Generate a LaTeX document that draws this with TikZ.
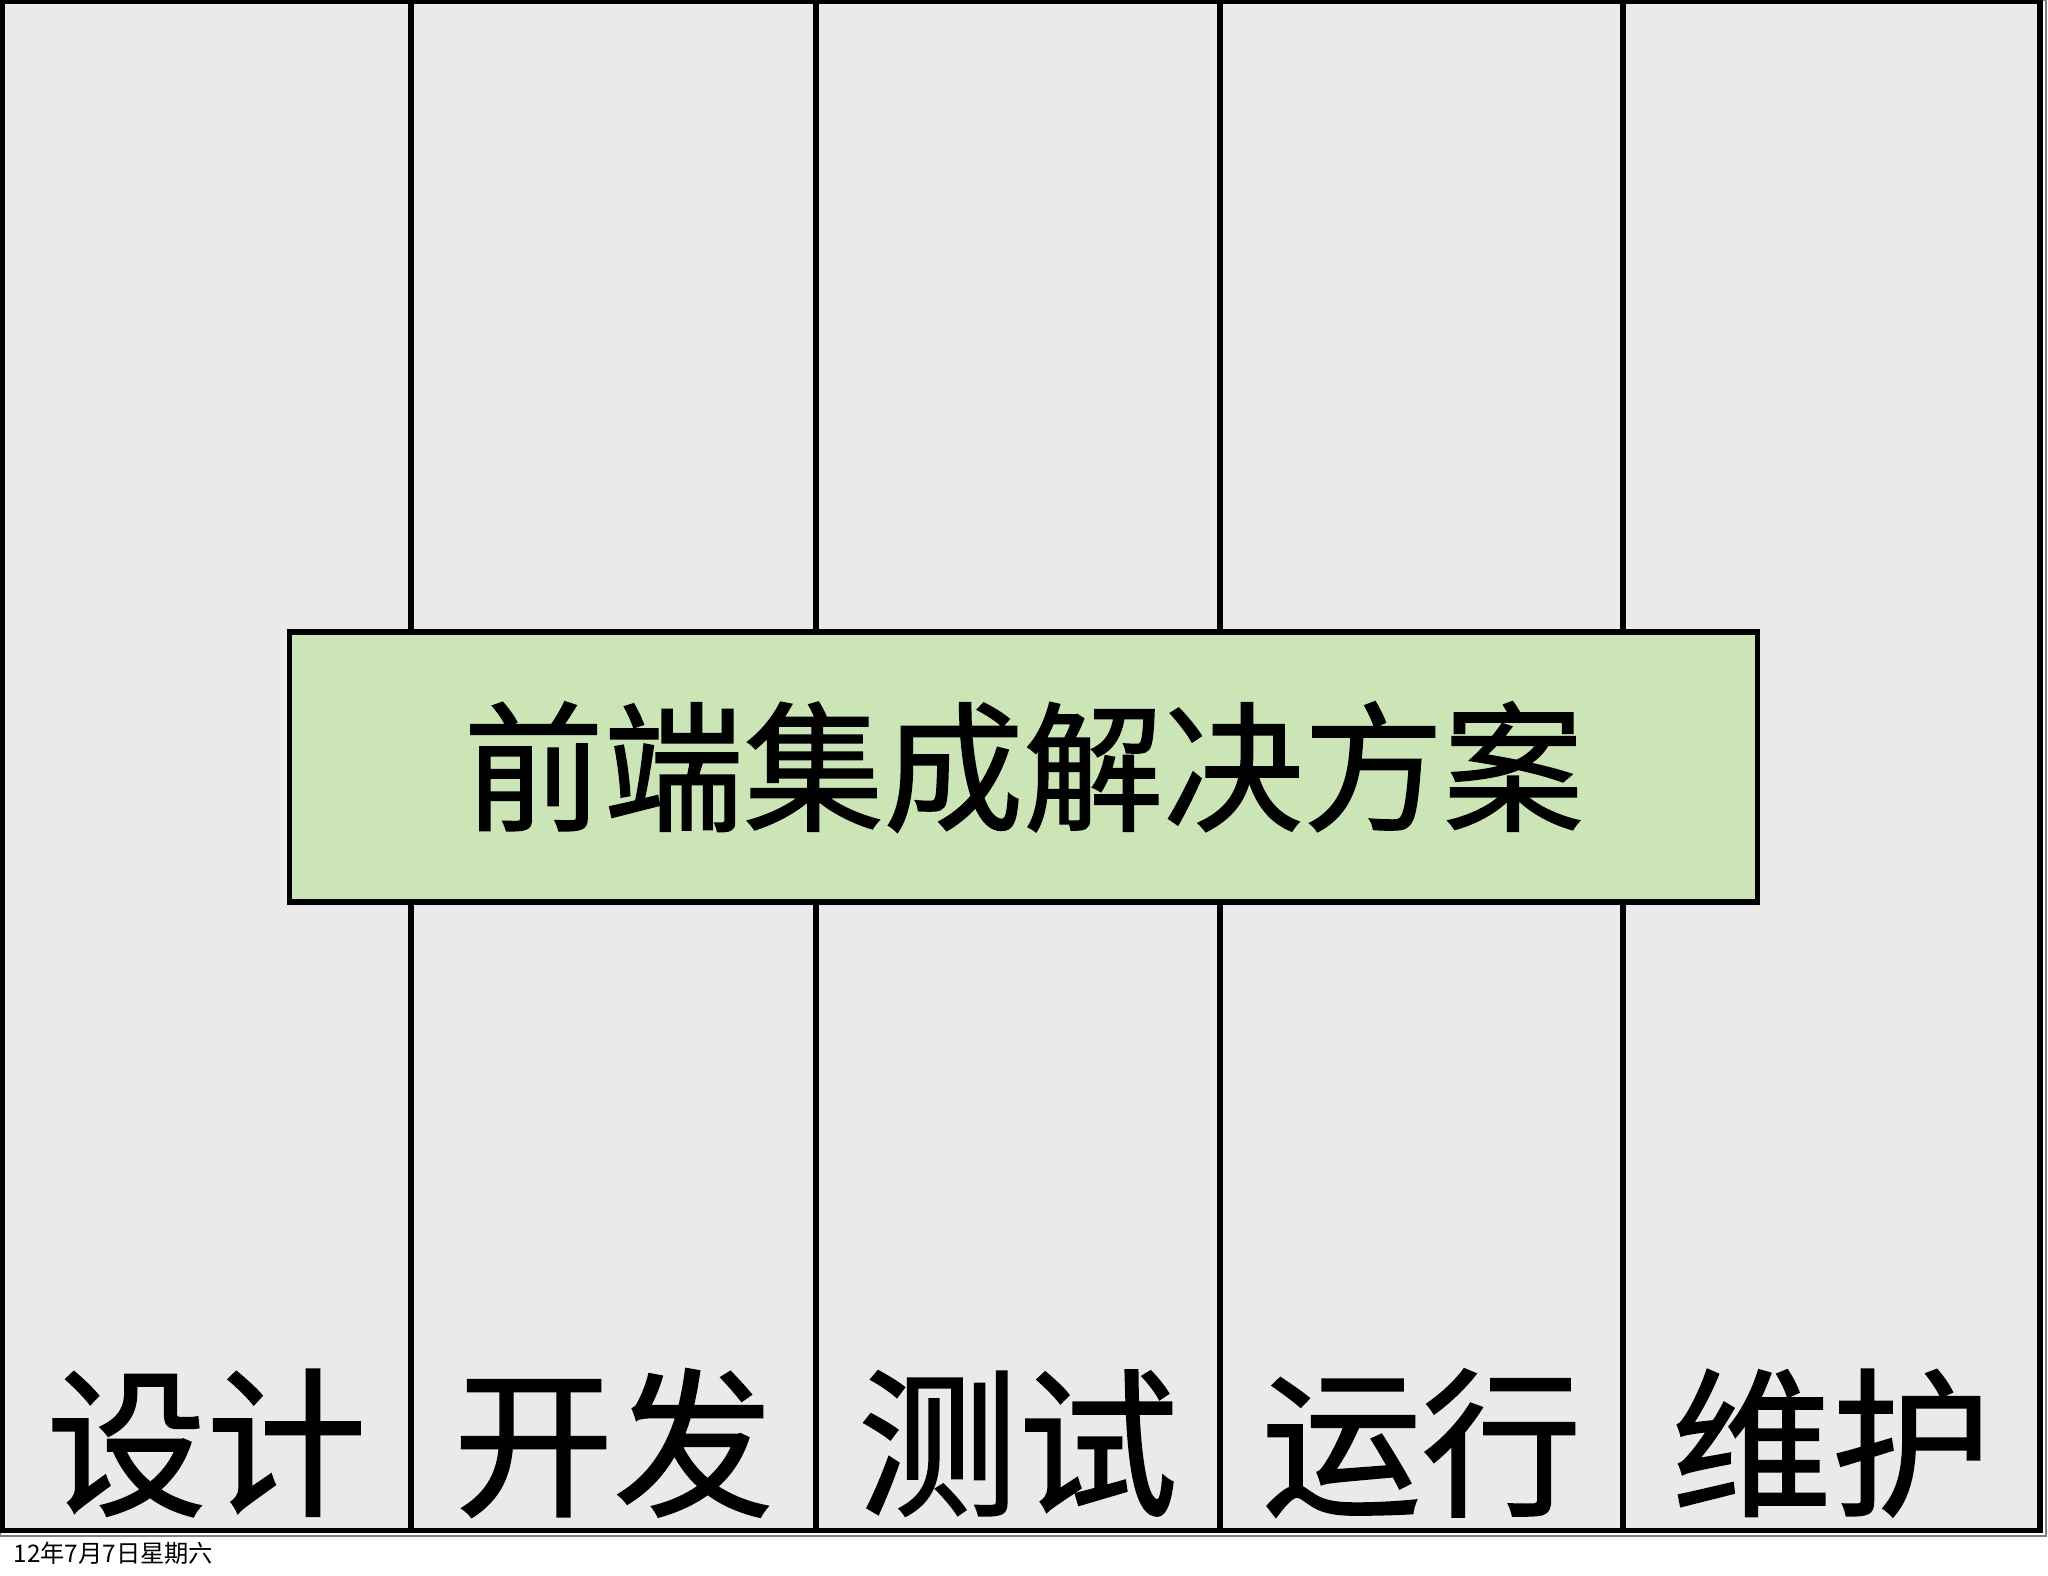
\documentclass[tikz,border=0pt]{standalone}
\usepackage{fontspec}
\newfontfamily\cjk{Noto Sans CJK SC}
\newfontfamily\cjkheavy[FakeBold=1.2]{Noto Sans CJK SC}
\definecolor{panelgrey}{HTML}{EAEAEA}
\definecolor{titlegreen}{HTML}{CBE5B6}
\tikzset{
	col/.style={rectangle,draw,line width=1.6pt,fill=panelgrey,inner sep=0pt,minimum height=15.28cm},
	titlebox/.style={rectangle,draw,line width=1.6pt,fill=titlegreen,inner sep=0pt,minimum width=14.67cm,minimum height=2.70cm,font=\cjkheavy\fontsize{39.8}{44}\selectfont},
	stagetext/.style={inner sep=0pt,font=\cjkheavy\fontsize{45.5}{50}\selectfont}
}
\begin{document}
\begin{tikzpicture}[x=0.01cm,y=-0.01cm]
			\useasboundingbox (0,0) rectangle (2048,1576);
			\fill[white] (0,0) rectangle (2048,1576);
			\draw[gray,line width=0.4pt] (0.2,0.2) rectangle (2046,1536);
			\draw (206.5,766) node [col,minimum width=4.09cm] (c1) {};
			\draw (613.5,766) node [col,minimum width=4.05cm] (c2) {};
			\draw (1018,766) node [col,minimum width=4.04cm] (c3) {};
			\draw (1421.5,766) node [col,minimum width=4.03cm] (c4) {};
			\draw (1831.5,766) node [col,minimum width=4.17cm] (c5) {};
			\draw (1023.5,767) node [titlebox] (title) {前端集成解决方案};
			\draw (206.5,1443) node [stagetext] (s1) {设计};
			\draw (613.5,1443) node [stagetext] (s2) {开发};
			\draw (1018,1443) node [stagetext] (s3) {测试};
			\draw (1421.5,1443) node [stagetext] (s4) {运行};
			\draw (1831.5,1443) node [stagetext] (s5) {维护};
			\draw (13,1553) node [anchor=west,inner sep=0pt,font=\cjk\fontsize{6.9}{7.5}\selectfont] (date) {12年7月7日星期六};
		\end{tikzpicture}
\end{document}
